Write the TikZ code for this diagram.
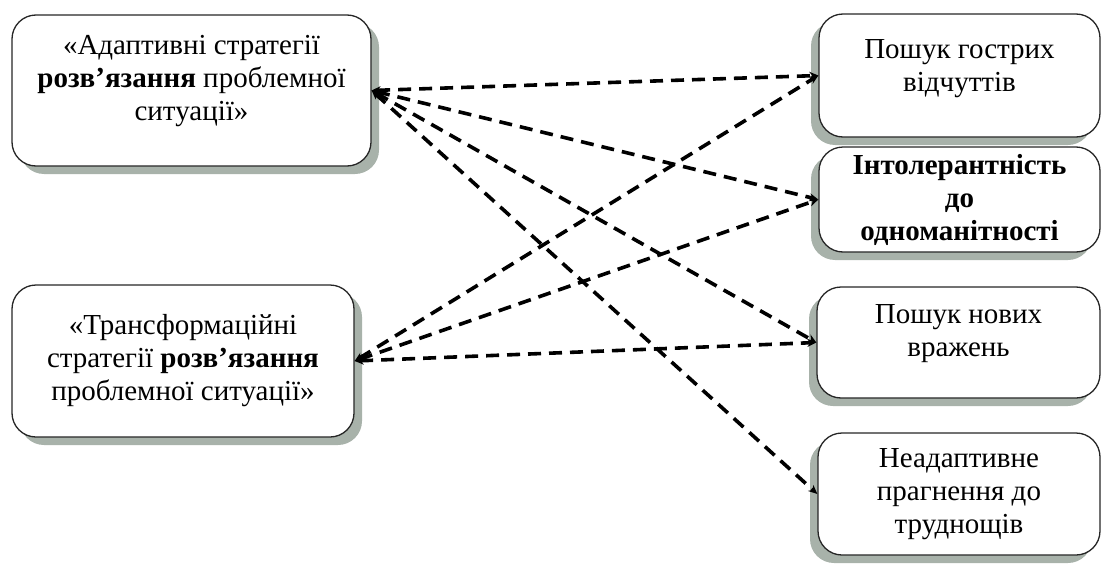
\documentclass[tikz,border=0pt]{standalone}
\usepackage{fontspec}
\setmainfont{Liberation Serif}
\usetikzlibrary{shadows,arrows.meta}
\definecolor{shadegray}{RGB}{168,178,170}
\tikzset{
  box/.style={draw=black!85, line width=1.3pt, rounded corners=24pt, fill=white,
    align=center, inner sep=0pt, font=\fontsize{29}{33}\selectfont},
  lshadow/.style={drop shadow={shadow xshift=8pt, shadow yshift=-8pt, fill=shadegray, opacity=1}},
  rshadow/.style={drop shadow={shadow xshift=-8pt, shadow yshift=-8pt, fill=shadegray, opacity=1}},
  link/.style={line width=3.6pt, dash pattern=on 13pt off 8pt,
    {Stealth[length=9pt,width=8pt]}-{Stealth[length=9pt,width=8pt]}}
}
\begin{document}
\begin{tikzpicture}[x=1pt,y=-1pt]
\useasboundingbox (0,0) rectangle (1106,570);
% strategies
\node[box,lshadow,minimum width=359pt,minimum height=151pt,text depth=26pt] (adapt) at (191.5,90.5)
  {«Адаптивні стратегії\\\textbf{розв’язання} проблемної\\ситуації»};
\node[box,lshadow,minimum width=342pt,minimum height=152pt] (transform) at (183,361)
  {«Трансформаційні\\стратегії \textbf{розв’язання}\\проблемної ситуації»};
% needs
\node[box,rshadow,minimum width=281pt,minimum height=123pt,text depth=20pt] (thrill) at (959.5,75.5)
  {Пошук гострих\\відчуттів};
\node[box,rshadow,minimum width=281pt,minimum height=105pt] (intol) at (959.5,199.5)
  {\textbf{Інтолерантність}\\\textbf{до}\\\textbf{одноманітності}};
\node[box,rshadow,minimum width=283pt,minimum height=111pt,text depth=24pt] (novelty) at (958.5,342.5)
  {Пошук нових\\вражень};
\node[box,rshadow,minimum width=282pt,minimum height=122pt] (hardship) at (959,494)
  {Неадаптивне\\прагнення до\\труднощів};
% links
\foreach \need in {thrill,intol,novelty,hardship}
  \draw[link] (adapt.east) -- (\need.west);
\foreach \need in {thrill,intol,novelty}
  \draw[link] (transform.east) -- (\need.west);
\end{tikzpicture}
\end{document}
